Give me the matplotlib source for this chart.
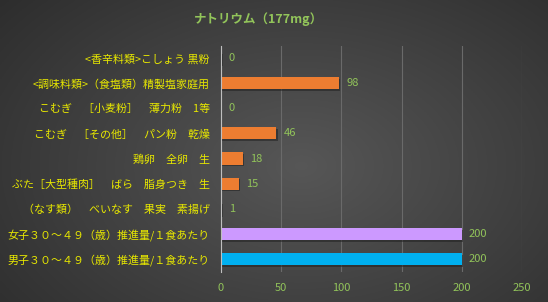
import matplotlib

matplotlib.use("Agg")
import matplotlib.pyplot as plt  # noqa: E402
import numpy as np  # noqa: E402

plt.rcParams["font.family"] = ["Noto Sans CJK JP", "DejaVu Sans"]

# データ（上から順）
labels = [
    "<香辛料類>こしょう 黒粉",
    "<調味料類>（食塩類）精製塩家庭用",
    "こむぎ　［小麦粉］　薄力粉　1等",
    "こむぎ　［その他］　パン粉　乾燥",
    "鶏卵　全卵　生",
    "ぶた［大型種肉］　ばら　脂身つき　生",
    "（なす類）　べいなす　果実　素揚げ",
    "女子３０～４９（歳）推進量/１食あたり",
    "男子３０～４９（歳）推進量/１食あたり",
]
values = [0.4, 98, 0, 46, 18, 15, 1, 200, 200]
bar_colors = ["#ed7d31"] * 7 + ["#cc99ff", "#00b0f0"]
title = "ナトリウム（177mg）"

W, H = 548, 302
fig = plt.figure(figsize=(W / 100, H / 100), dpi=100)

# 背景のグラデーション（中央が明るく、周辺が暗い）
bg = fig.add_axes([0, 0, 1, 1])
yy, xx = np.mgrid[0:1:200j, 0:1:300j]
r = np.sqrt(((xx - 0.55) / 0.75) ** 2 + ((yy - 0.55) / 0.9) ** 2)
shade = np.clip(0.34 - 0.17 * r, 0.17, 0.34)
bg.imshow(np.dstack([shade] * 3), aspect="auto", extent=[0, 1, 0, 1])
bg.axis("off")

ax = fig.add_axes([221 / W, 1 - 271.5 / H, (522 - 221) / W, (271.5 - 45.5) / H])
ax.set_facecolor("none")
y = np.arange(len(labels))

# 影
ax.barh(y + 0.07, values, height=0.48, left=1.0, color="#1e1e1e", alpha=0.5, zorder=2)
ax.barh(y, values, height=0.48, color=bar_colors, zorder=3)

for yi, v in zip(y, values):
    ax.text(v + 6, yi, f"{round(v)}", va="center", ha="left",
            color="#92c45a", fontsize=8, zorder=4)

ax.set_xlim(0, 250)
ax.set_ylim(len(labels) - 0.5, -0.5)
ax.set_xticks([0, 50, 100, 150, 200, 250])
ax.set_yticks(y)
ax.set_yticklabels(labels, color="#e8e800", fontsize=7.9)
ax.tick_params(axis="x", colors="#92c45a", labelsize=8, length=0, pad=8)
ax.tick_params(axis="y", length=0, pad=8)
ax.grid(axis="x", color="#6a6a6a", linewidth=0.8, zorder=0)
for s in ["top", "right", "bottom"]:
    ax.spines[s].set_visible(False)
ax.spines["left"].set_color("#bfbfbf")
ax.spines["left"].set_zorder(5)

fig.text(258 / W, 1 - 19 / H, title, ha="center", va="center",
         color="#92c45a", fontsize=9, fontweight="bold")

fig.savefig("out.png", dpi=100)
